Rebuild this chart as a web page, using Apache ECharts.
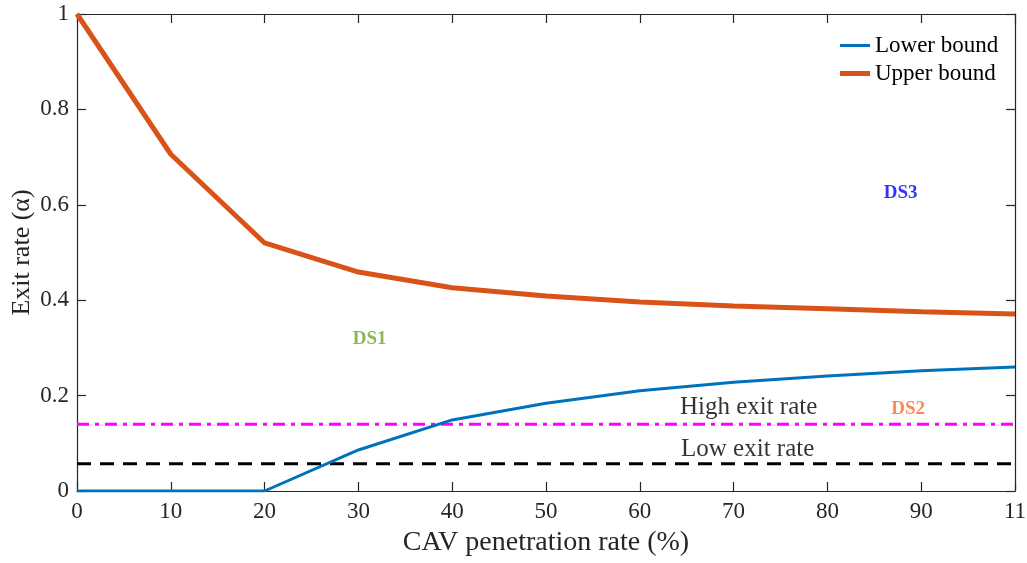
<!DOCTYPE html>
<html><head><meta charset="utf-8">
<script src="https://cdn.jsdelivr.net/npm/echarts@6/dist/echarts.min.js"></script>
<style>html,body{margin:0;padding:0;background:#fff}#c{width:1027px;height:563px}</style>
</head><body><div id="c"></div>
<script>
const xValues = [0, 10, 20, 30, 40, 50, 60, 70, 80, 90, 100];
const xTickLabels = ['0','10','20','30','40','50','60','70','80','90','11'];
const yTickLabels = ['0','0.2','0.4','0.6','0.8','1'];
const lowerBound = [0, 0, 0, 0.086, 0.149, 0.184, 0.210, 0.228, 0.241, 0.252, 0.260];
const upperBound = [1.0, 0.706, 0.520, 0.459, 0.426, 0.409, 0.396, 0.388, 0.382, 0.376, 0.371];
const highExitRate = 0.14;
const lowExitRate = 0.057;
const annotations = [
  {text: 'DS1', x: 31.2, y: 0.319, color: '#6FA52A', bold: true, size: 19},
  {text: 'DS2', x: 88.6, y: 0.172, color: '#FF6A2A', bold: true, size: 19},
  {text: 'DS3', x: 87.8, y: 0.625, color: '#0000FF', bold: true, size: 19},
  {text: 'High exit rate', x: 71.6, y: 0.176, color: '#000', bold: false, size: 25},
  {text: 'Low exit rate', x: 71.5, y: 0.088, color: '#000', bold: false, size: 25}
];
const FONT = '"Liberation Serif","Times New Roman",serif';
const chart = echarts.init(document.getElementById('c'), null, {renderer: 'canvas'});
const pair = arr => xValues.map((x, i) => [x, arr[i]]);
const mkLine = () => ({show: true, onZero: false, lineStyle: {color: '#262626', width: 1.2}});
const mkTick = () => ({show: true, inside: true, length: 9, lineStyle: {color: '#262626', width: 1.2}});
const legendText = {fontFamily: FONT, fontSize: 23, color: '#000'};
chart.setOption({
  animation: false,
  grid: {left: 77, right: 12, top: 14, bottom: 72, containLabel: false, outerBoundsMode: 'none'},
  legend: [{
    left: 835, top: 29, itemWidth: 30, itemHeight: 3, icon: 'rect',
    textStyle: legendText, data: ['Lower bound']
  }, {
    left: 835, top: 57, itemWidth: 30, itemHeight: 5, icon: 'rect',
    textStyle: legendText, data: ['Upper bound']
  }],
  xAxis: [{
    type: 'value', min: 0, max: 100, interval: 10,
    name: 'CAV penetration rate (%)', nameLocation: 'middle', nameGap: 38, nameMoveOverlap: false,
    nameTextStyle: {fontFamily: FONT, fontSize: 28, color: '#262626'},
    axisLine: mkLine(), axisTick: mkTick(), splitLine: {show: false},
    axisLabel: {fontFamily: FONT, fontSize: 23, color: '#262626', margin: 9,
      formatter: v => xTickLabels[xValues.indexOf(v)]}
  }, {
    type: 'value', min: 0, max: 100, interval: 10, position: 'top',
    axisLine: mkLine(), axisTick: mkTick(), axisLabel: {show: false}, splitLine: {show: false}
  }],
  yAxis: [{
    type: 'value', min: 0, max: 1, interval: 0.2,
    name: 'Exit rate (\u03b1)', nameLocation: 'middle', nameGap: 42, nameMoveOverlap: false,
    nameTextStyle: {fontFamily: FONT, fontSize: 26, color: '#262626'},
    axisLine: mkLine(), axisTick: mkTick(), splitLine: {show: false},
    axisLabel: {fontFamily: FONT, fontSize: 23, color: '#262626', margin: 8,
      formatter: v => yTickLabels[Math.round(v * 5)]}
  }, {
    type: 'value', min: 0, max: 1, interval: 0.2, position: 'right',
    axisLine: mkLine(), axisTick: mkTick(), axisLabel: {show: false}, splitLine: {show: false}
  }],
  series: [
    {name: 'High exit rate line', type: 'line', symbol: 'none', data: [[0, highExitRate], [100, highExitRate]],
     lineStyle: {color: '#FF00FF', width: 3, type: [12, 6, 4, 6]}, z: 2},
    {name: 'Low exit rate line', type: 'line', symbol: 'none', data: [[0, lowExitRate], [100, lowExitRate]],
     lineStyle: {color: '#000000', width: 3, type: [14, 9]}, z: 2},
    {name: 'Lower bound', type: 'line', symbol: 'none', data: pair(lowerBound),
     lineStyle: {color: '#0072BD', width: 3}, itemStyle: {color: '#0072BD'}, z: 3},
    {name: 'Upper bound', type: 'line', symbol: 'none', data: pair(upperBound),
     lineStyle: {color: '#D95319', width: 5}, itemStyle: {color: '#D95319'}, z: 3},
    {name: 'annotations', type: 'scatter', symbolSize: 0, silent: true, z: 5,
     data: annotations.map(a => ({
       value: [a.x, a.y],
       label: {show: true, position: 'inside', formatter: a.text, color: a.color,
         fontFamily: FONT, fontSize: a.size, fontWeight: a.bold ? 'bold' : 'normal'}
     }))}
  ]
});
</script></body></html>
